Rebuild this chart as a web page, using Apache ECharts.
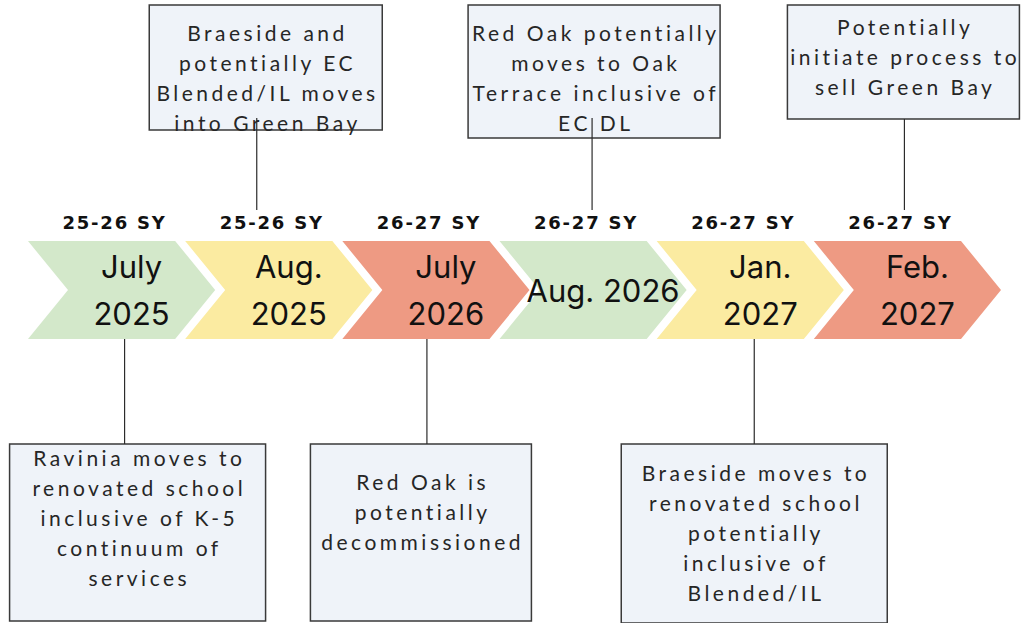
<!DOCTYPE html>
<html>
<head>
<meta charset="utf-8">
<title>School moves timeline</title>
<script src="https://cdn.jsdelivr.net/npm/echarts@6/dist/echarts.min.js"></script>
<style>
  html, body { margin: 0; padding: 0; background: #ffffff; }
  #chart { width: 1025px; height: 623px; }
  /* zrender has no letter spacing option, so the svg text gets it from css */
  #chart text[style*="Lato"] { letter-spacing: 3.5px; }
  #chart text[style*="DejaVu"] { letter-spacing: 1.8px; }
</style>
</head>
<body>
<div id="chart"></div>
<script>
const milestones = ['July\n2025', 'Aug.\n2025', 'July\n2026', 'Aug. 2026', 'Jan.\n2027', 'Feb.\n2027']
const schoolYears = ['25-26 SY', '25-26 SY', '26-27 SY', '26-27 SY', '26-27 SY', '26-27 SY']
const events = [
  'Ravinia moves to\nrenovated school\ninclusive of K-5\ncontinuum of\nservices',
  'Braeside and\npotentially EC\nBlended/IL moves\ninto Green Bay',
  'Red Oak is\npotentially\ndecommissioned',
  'Red Oak potentially\nmoves to Oak\nTerrace inclusive of\nEC DL',
  'Braeside moves to\nrenovated school\npotentially\ninclusive of\nBlended/IL',
  'Potentially\ninitiate process to\nsell Green Bay'
]
const eventSides = ['below', 'above', 'below', 'above', 'below', 'above']

// layout / style
const phaseColors = ['#d3e8ca', '#fbeba1', '#ee9a83']
const boxWidths = [256, 233, 221, 252, 266, 232]
const boxHeights = [177, 125, 177, 133, 179, 114]
const boxShifts = [16, -13, -15, 1, 4, -4]
const stemShifts = [3, -22, -9, -1, 4, -3]
const textTops = [13, 27, 37, 27, 28, 21]
const LINE_H = 30

const chart = echarts.init(document.getElementById('chart'), null, { renderer: 'svg' })

function renderMilestone(params, api) {
  const i = api.value(0)
  const cx = api.coord([i, 0])[0]
  const step = api.size([1, 0])[0]
  const top = 241
  const bottom = 339
  const mid = (top + bottom) / 2
  const notch = 40
  const body = step - 10
  const left = cx - (body + notch) / 2

  const boxW = boxWidths[i]
  const boxH = boxHeights[i]
  const boxX = cx + boxShifts[i] - boxW / 2
  const stemX = cx + stemShifts[i]
  const above = eventSides[i] === 'above'
  const boxTop = above ? 5 : 444
  const boxBottom = boxTop + boxH
  const nLines = events[i].split('\n').length
  const lastLine = boxTop + textTops[i] + (nLines - 1) * LINE_H
  // the stem runs up into the text when the text sits low in the box
  const stemFrom = above ? (boxBottom - lastLine < 20 ? lastLine - 4 : boxBottom) : bottom
  const stemTo = above ? 210 : boxTop

  return {
    type: 'group',
    children: [
      {
        type: 'rect',
        shape: { x: boxX, y: boxTop, width: boxW, height: boxH },
        style: { fill: '#eff3f9', stroke: '#3a3a3a', lineWidth: 1.5 }
      },
      {
        type: 'text',
        style: {
          text: events[i],
          x: boxX + boxW / 2 + 1.75,
          y: boxTop + textTops[i] - LINE_H / 2,
          fill: '#262626',
          font: '21px Lato',
          lineHeight: LINE_H,
          align: 'center',
          textAlign: 'center',
          verticalAlign: 'top',
          textVerticalAlign: 'top'
        }
      },
      {
        type: 'line',
        shape: { x1: stemX, y1: stemFrom, x2: stemX, y2: stemTo },
        style: { stroke: '#2b2b2b', lineWidth: 1.2 }
      },
      {
        type: 'polygon',
        shape: {
          points: [
            [left, top], [left + body, top], [left + body + notch, mid],
            [left + body, bottom], [left, bottom], [left + notch, mid]
          ]
        },
        style: { fill: phaseColors[i % 3] }
      },
      {
        type: 'text',
        style: {
          text: milestones[i],
          x: cx + 10,
          y: mid,
          fill: '#111111',
          font: '31px Inter',
          lineHeight: 47,
          align: 'center',
          textAlign: 'center',
          verticalAlign: 'middle',
          textVerticalAlign: 'middle'
        }
      },
      {
        type: 'text',
        style: {
          text: schoolYears[i],
          x: cx - 7,
          y: 222,
          fill: '#111111',
          font: 'bold 18px "DejaVu Sans"',
          align: 'center',
          textAlign: 'center',
          verticalAlign: 'middle',
          textVerticalAlign: 'middle'
        }
      }
    ]
  }
}

chart.setOption({
  animation: false,
  grid: { left: 43, right: 39, top: 0, bottom: 0 },
  xAxis: { type: 'category', data: milestones, show: false },
  yAxis: { type: 'value', min: 0, max: 1, show: false },
  series: [{
    type: 'custom',
    silent: true,
    renderItem: renderMilestone,
    data: milestones.map((m, i) => [i, 0])
  }]
})
</script>
</body>
</html>
